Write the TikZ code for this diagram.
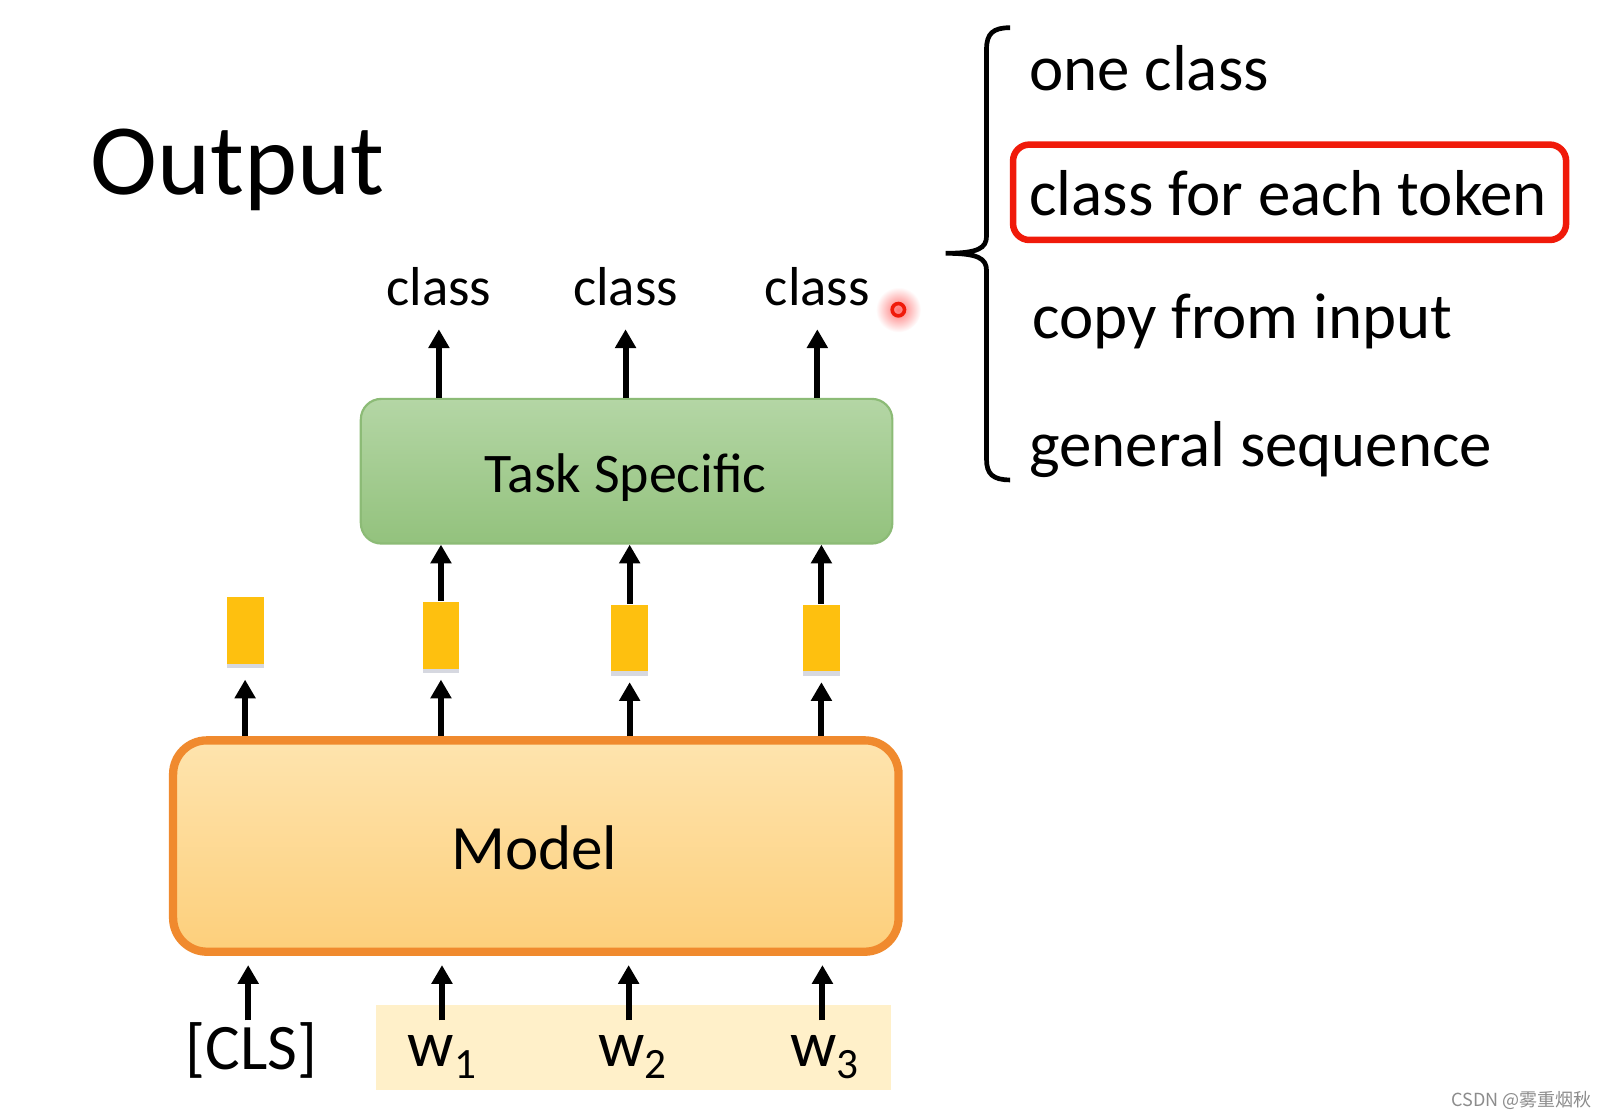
\documentclass[tikz,border=0pt]{standalone}
\usepackage{fontspec}
\setmainfont{Carlito}
\newfontfamily\cjkfont{Noto Sans CJK SC}
\usetikzlibrary{arrows.meta,shadows}
\definecolor{greenTop}{HTML}{B4D6A5}
\definecolor{greenBot}{HTML}{93C27D}
\definecolor{greenEdge}{HTML}{8CBB76}
\definecolor{orgTop}{HTML}{FEE4AE}
\definecolor{orgBot}{HTML}{FDCF7B}
\definecolor{orgEdge}{HTML}{F08A2E}
\definecolor{gold}{HTML}{FEC00F}
\definecolor{beige}{HTML}{FFF0C9}
\definecolor{hlred}{HTML}{F01A0A}
\definecolor{shadowc}{HTML}{7A7F9A}
\newcommand{\subtok}[1]{\raisebox{-3.4pt}{\fontsize{12pt}{14pt}\selectfont #1}}
\begin{document}
\begin{tikzpicture}[x=0.01cm,y=-0.01cm,
  arr/.style={line width=1.65pt,-{Triangle[width=5.6pt,length=5.2pt]}},
  vec/.style={fill=gold, minimum width=0.36cm, minimum height=0.65cm, inner sep=0pt,
    drop shadow={shadow xshift=0pt,shadow yshift=-1.3pt,opacity=0.3,fill=shadowc}},
  lbl/.style={anchor=base, inner sep=0pt, font=\fontsize{15.2pt}{18pt}\selectfont},
  item/.style={anchor=base west, inner sep=0pt, font=\fontsize{18pt}{22pt}\selectfont},
  tok/.style={anchor=base, inner sep=0pt, font=\fontsize{18pt}{22pt}\selectfont}]
\useasboundingbox (0,0) rectangle (1568,1091);
\fill[white] (0,0) rectangle (1568,1091);

% title
\node[anchor=base west, inner sep=0pt, font=\fontsize{28pt}{34pt}\selectfont] (title) at (88,190) {Output};

% task specific box
\node[draw=greenEdge, line width=0.6pt, rounded corners=0.2cm, top color=greenTop, bottom color=greenBot,
  minimum width=5.18cm, minimum height=1.41cm, inner sep=0pt] (task) at (611,459.5) {};
\node[anchor=base, inner sep=0pt, font=\fontsize{15.5pt}{19pt}\selectfont] (tasktxt) at (610,480) {Task Specific};

% class labels
\node[lbl] (c1) at (428,298) {class};
\node[lbl] (c2) at (610,298) {class};
\node[lbl] (c3) at (797,298) {class};
\foreach \c in {c1,c2,c3}
  \draw[arr, shorten >=0.22cm] (task.north -| \c) -- (\c.south);

% laser pointer dot
\shade[inner color=red!55, outer color=white] (876,302) circle (0.22cm);
\node[circle, draw=hlred, line width=1pt, minimum size=0.12cm, inner sep=0pt] (dot) at (876,302) {};

% model box
\node[draw=orgEdge, line width=2.3pt, rounded corners=0.33cm, top color=orgTop, bottom color=orgBot,
  minimum width=7.07cm, minimum height=2.06cm, inner sep=0pt] (model) at (522.5,825) {};
\node[anchor=base, inner sep=0pt, font=\fontsize{17.5pt}{21pt}\selectfont] (modeltxt) at (521,848) {Model};

% output vectors
\node[vec] (v0) at (239,614.5) {};
\node[vec] (v1) at (430,619.5) {};
\node[vec] (v2) at (614,622) {};
\node[vec] (v3) at (801,622) {};
\draw[arr, shorten >=0.15cm] (model.north -| v0) -- (v0.south);
\foreach \v in {v1,v2,v3}{
  \draw[arr, shorten >=0.1cm] (model.north -| \v) -- (\v.south);
  \draw[arr] (\v.north) -- (\v.north |- task.south);
}

% input tokens
\node[fill=beige, minimum width=5.02cm, minimum height=0.83cm, inner sep=0pt] (inbg) at (618,1021.5) {};
\node[tok] (cls) at (245,1043) {[CLS]};
\node[tok] (w1) at (431,1040) {w\subtok{1}};
\node[tok] (w2) at (617,1040) {w\subtok{2}};
\node[tok] (w3) at (804,1040) {w\subtok{3}};
\coordinate (i0) at (242,995);
\coordinate (i1) at (431,995);
\coordinate (i2) at (613,995);
\coordinate (i3) at (802,995);
\foreach \i in {i0,i1,i2,i3}
  \draw[arr, shorten >=0.09cm] (\i) -- (\i |- model.south);

% brace
\draw[line width=1.3pt] (985,27) .. controls (968,27) and (962,33) .. (962,48) -- (962,230)
  .. controls (962,242) and (954,247) .. (922,247)
  .. controls (954,247) and (962,252) .. (962,264) -- (962,448)
  .. controls (962,462) and (968,468) .. (985,468);

% list items
\node[item] (o1) at (1003,88) {one class};
\node[item] (o2) at (1003,210) {class for each token};
\node[item] (o3) at (1006,330) {copy from input};
\node[item] (o4) at (1003,455) {general sequence};
\node[draw=hlred, line width=1.8pt, rounded corners=0.16cm, minimum width=5.39cm, minimum height=0.93cm,
  inner sep=0pt] (hl) at (1257.5,187.5) {};

% watermark
\node[anchor=base east, inner sep=0pt, text=black!45, font=\cjkfont\fontsize{5pt}{6pt}\selectfont] (wm) at (1553,1079) {CSDN @雾重烟秋};
\end{tikzpicture}
\end{document}
